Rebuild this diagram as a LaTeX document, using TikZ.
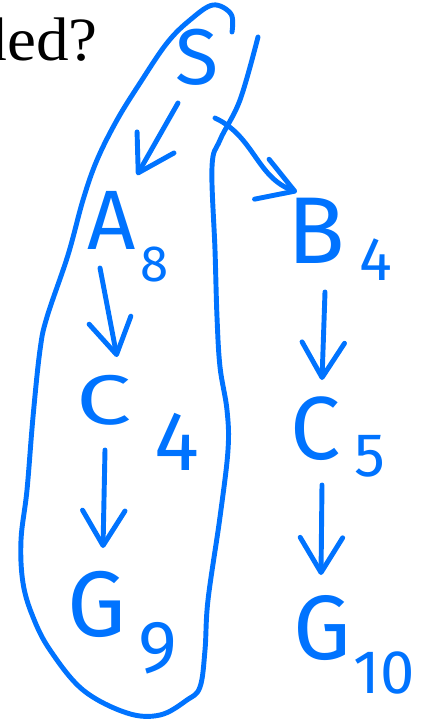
\documentclass[tikz,border=0pt]{standalone}
\usepackage{fontspec}
\newfontfamily\hand{Fira Sans}
\newfontfamily\serq{Liberation Serif}
\usetikzlibrary{arrows.meta}
\definecolor{ink}{RGB}{0,115,255}
\tikzset{
  inkline/.style={draw=ink, line width=2.8pt, line cap=round, line join=round},
  arr/.style={inkline, -{Straight Barb[length=7mm,width=8.5mm,round]}},
  lbl/.style={text=ink, inner sep=0pt},
}
\newcommand{\hs}[1]{\hand\fontsize{#1}{#1}\selectfont}
\begin{document}
\begin{tikzpicture}[x=0.02cm,y=-0.02cm]
\useasboundingbox (0,0) rectangle (429,721);
\clip (0,0) rectangle (429,721);
\node[inner sep=0pt, anchor=base east, xscale=1.06, font={\serq\fontsize{35}{40}\selectfont}] (q) at (98,60) {ded?};
% letters
\node[lbl, font=\hs{45}] (S) at (197,57) {S};
\node[lbl, font=\hs{48}] (A) at (112,220) {A};
\node[lbl, font=\hs{29}] (A8) at (155,265) {8};
\node[lbl, font=\hs{40}, xscale=1.4] (C4) at (104,400) {C};
\node[lbl, font=\hs{48}] (C4s) at (177,442) {4};
\node[lbl, font=\hs{53}] (G9) at (97,604) {G};
\node[lbl, font=\hs{42}] (G9s) at (158,648) {9};
\node[lbl, font=\hs{54}] (B) at (316,231) {B};
\node[lbl, font=\hs{35}] (B4) at (376,260) {4};
\node[lbl, font=\hs{51}] (C5) at (316,429) {C};
\node[lbl, font=\hs{35}] (C5s) at (370,456) {5};
\node[lbl, font=\hs{52}] (G10) at (322,628) {G};
\node[lbl, font=\hs{35}] (G10s) at (384,673) {10};
% arrows
\draw[arr] ([shift={(-19,46)}]S.center) -- ([shift={(25,-45)}]A.center);
\draw[arr] ([shift={(-12,48)}]A.center) -- ([shift={(13,-43)}]C4.center);
\draw[arr] ([shift={(1,50)}]C4.center) -- ([shift={(6,-56)}]G9.center);
\draw[arr] ([shift={(18,61)}]S.center) to[out=-25,in=160] ([shift={(-19,-39)}]B.center);
\draw[arr] ([shift={(9,61)}]B.center) -- ([shift={(6,-49)}]C5.center);
\draw[arr] ([shift={(6,56)}]C5.center) -- ([shift={(-1,-53)}]G10.center);
% loop
\draw[inkline] plot[smooth, tension=0.6] coordinates {
 (232,32) (231,14) (213,5) (190,20) (167,43) (140,83) (117,120) (97,160) (83,200) (68,255)
 (47,317) (40,350) (33,417) (27,490) (21,540) (23,583) (33,617) (50,650) (83,690) (127,713)
 (160,715) (187,700) (200,687) (205,650) (208,600) (220,517) (228,450) (227,410) (220,367)
 (217,317) (215,250) (212,167) (220,140) (240,100) (258,37)};
\end{tikzpicture}
\end{document}
